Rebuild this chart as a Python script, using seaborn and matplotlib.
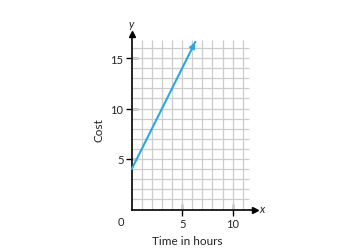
import matplotlib
matplotlib.use("Agg")
import matplotlib.pyplot as plt
import seaborn as sns
import pandas as pd
import numpy as np

# data
hours = [0, 6.3]
cost = [4, 16.6]
x_ticks = [5, 10]
y_ticks = [5, 10, 15]
x_label = "Time in hours"
y_label = "Cost"

sns.set_theme(style="white")
plt.rcParams['font.family'] = ['Lato', 'DejaVu Sans']

W, H = 355, 253
fig = plt.figure(figsize=(W / 100, H / 100), dpi=100)
u = 10.1
ox, oy = 131.7, 253 - 210.5
xmin, xmax, ymin, ymax = -2, 14, -4, 19
ax = fig.add_axes([(ox + xmin * u) / W, (oy + ymin * u) / H,
                   (xmax - xmin) * u / W, (ymax - ymin) * u / H])
ax.set_xlim(xmin, xmax)
ax.set_ylim(ymin, ymax)

grid_c = "#cccccc"
ax.vlines(np.arange(1, 12), 0, 16.8, color=grid_c, lw=0.9, zorder=1)
ax.hlines(np.arange(1, 17), 0, 11.6, color=grid_c, lw=0.9, zorder=1)

df = pd.DataFrame({"hours": hours, "cost": cost})
line_c = "#2aa9df"
sns.lineplot(data=df, x="hours", y="cost", color=line_c, lw=1.5, ax=ax, zorder=3)
ax.annotate("", xy=(hours[-1] + 0.1, cost[-1] + 0.2), xytext=(hours[-1] - 0.3, cost[-1] - 0.6),
            arrowprops=dict(arrowstyle="-|>", color=line_c, lw=1.5, mutation_scale=8), zorder=4)

for s in ["top", "right"]:
    ax.spines[s].set_visible(False)
ax.spines["left"].set_position(("data", 0))
ax.spines["bottom"].set_position(("data", 0))
ax.spines["left"].set_bounds(0, 17.3)
ax.spines["bottom"].set_bounds(0, 12.1)
for s in ["left", "bottom"]:
    ax.spines[s].set_color("black")
    ax.spines[s].set_linewidth(1.2)
ax.plot(12.2, 0, marker=">", color="black", ms=5, clip_on=False, zorder=5)
ax.plot(0, 17.4, marker="^", color="black", ms=5, clip_on=False, zorder=5)

txt_c = "#222222"
ax.set_xticks(x_ticks)
ax.set_yticks(y_ticks)
ax.tick_params(axis="both", direction="inout", length=8, width=1.0, color="black",
               labelsize=8, labelcolor=txt_c, pad=2, bottom=True, left=True)
ax.set_xlabel("")
ax.set_ylabel("")
ax.text(-1.1, -1.15, "0", fontsize=8, color=txt_c, ha="center", va="center")
ax.text(5.5, -3.1, x_label, fontsize=8.5, color=txt_c, ha="center", va="center")
ax.text(-3.2, 8.0, y_label, fontsize=8.5, color=txt_c, ha="center", va="center", rotation=90)
ax.text(0, 18.4, "y", fontsize=8, color=txt_c, ha="center", va="center", style="italic")
ax.text(12.9, 0.1, "x", fontsize=8, color=txt_c, ha="center", va="center", style="italic")

fig.savefig("out.png", dpi=100)
